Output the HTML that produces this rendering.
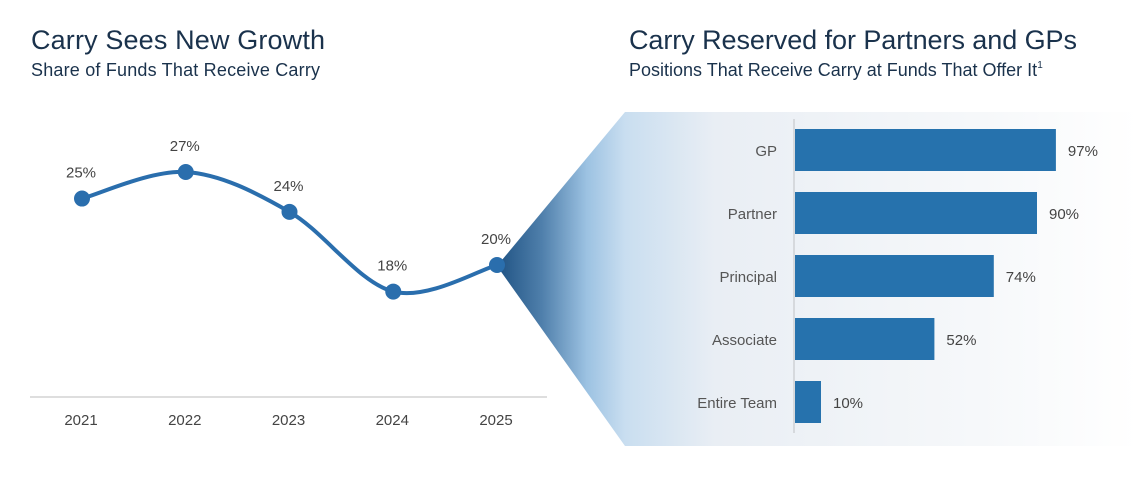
<!DOCTYPE html>
<html><head><meta charset="utf-8"><style>
body{margin:0;background:#fff;width:1138px;height:472px;overflow:hidden;font-family:"Liberation Sans",sans-serif}
</style></head><body>
<svg id="c" width="1138" height="472" xmlns="http://www.w3.org/2000/svg">
<defs>
<linearGradient id="fan" x1="497" y1="0" x2="1138" y2="0" gradientUnits="userSpaceOnUse">
<stop offset="0" stop-color="#1f5283"/>
<stop offset="0.07" stop-color="#4f7fab"/>
<stop offset="0.14" stop-color="#9cc2e2"/>
<stop offset="0.2" stop-color="#c9def0"/>
<stop offset="0.34" stop-color="#e9eef4"/>
<stop offset="0.75" stop-color="#f6f8fa"/>
<stop offset="1" stop-color="#ffffff"/>
</linearGradient>
</defs>
<polygon points="497,266 625,112 1138,112 1138,446 625,446" fill="url(#fan)"/>
<text x="31" y="49" font-size="27" fill="#1a324c" textLength="294">Carry Sees New Growth</text>
<text x="31" y="76" font-size="18" fill="#1a324c" textLength="289">Share of Funds That Receive Carry</text>
<text x="629" y="49" font-size="27" fill="#1a324c" textLength="448">Carry Reserved for Partners and GPs</text>
<text x="629" y="76" font-size="18" fill="#1a324c">Positions That Receive Carry at Funds That Offer It<tspan font-size="10" dy="-8">1</tspan></text>
<line x1="30" y1="397" x2="547" y2="397" stroke="#d4d4d4" stroke-width="1.5"/>
<line x1="794" y1="119" x2="794" y2="433" stroke="#d6d9dd" stroke-width="2"/>
<g id="g"></g>
</svg>
<script>
const years=['2021','2022','2023','2024','2025'];
const shares=[25,27,24,18,20];
const positions=['GP','Partner','Principal','Associate','Entire Team'];
const carryPct=[97,90,74,52,10];
const NS='http://www.w3.org/2000/svg';
const g=document.getElementById('g');
function mk(t,a){const e=document.createElementNS(NS,t);for(const k in a)e.setAttribute(k,a[k]);g.appendChild(e);return e;}
const xL=i=>82+i*103.75;
const yL=v=>227.8-(v-22.8)*13.29;
const xB=v=>794+v*2.7;
const yB=i=>129+i*63;
const pts=shares.map((v,i)=>[xL(i),yL(v)]);
let d='M'+pts[0][0]+','+pts[0][1];
for(let i=0;i<pts.length-1;i++){
 const p0=pts[Math.max(0,i-1)],p1=pts[i],p2=pts[i+1],p3=pts[Math.min(pts.length-1,i+2)];
 const c1=[p1[0]+(p2[0]-p0[0])/6,p1[1]+(p2[1]-p0[1])/6];
 const c2=[p2[0]-(p3[0]-p1[0])/6,p2[1]-(p3[1]-p1[1])/6];
 d+=' C'+c1+' '+c2+' '+p2;
}
const ln=mk('path',{d:d,fill:'none',stroke:'#2a6ead','stroke-width':4});


shares.forEach((v,i)=>{
 const c=mk('circle',{cx:xL(i),cy:yL(v),r:8,fill:'#2a6ead'});
 
 
 const t=mk('text',{x:xL(i)-1,y:yL(v)-21,'font-size':15,fill:'#444','text-anchor':'middle'});
 t.textContent=v+'%';
 
 
 const y=mk('text',{x:xL(i)-1,y:425,'font-size':15,fill:'#444','text-anchor':'middle'});
 y.textContent=years[i];
 
 
});
carryPct.forEach((v,i)=>{
 const r=mk('rect',{x:795,y:yB(i),width:xB(v)-795,height:42,fill:'#2672ad'});
 
 
 const t=mk('text',{x:xB(v)+12,y:yB(i)+27,'font-size':15,fill:'#444'});
 t.textContent=v+'%';
 
 
 const l=mk('text',{x:777,y:yB(i)+27,'font-size':15,fill:'#555','text-anchor':'end'});
 l.textContent=positions[i];
 
 
});
</script>
</body></html>
